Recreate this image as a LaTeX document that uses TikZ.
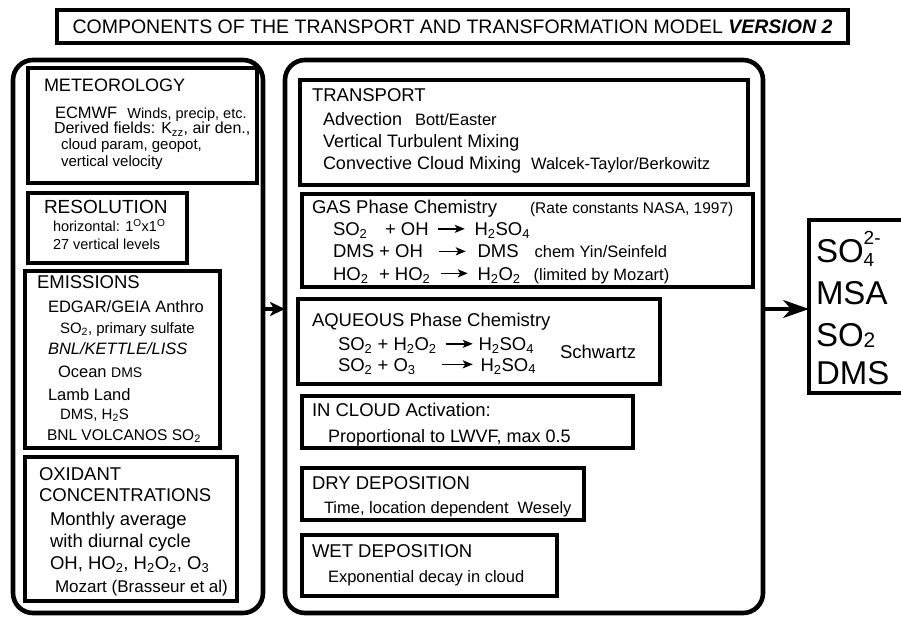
\documentclass[tikz,border=0pt]{standalone}
\usepackage{fontspec}
\setmainfont{Liberation Sans}
\usetikzlibrary{arrows.meta}

\newcommand{\fs}[1]{\fontsize{#1bp}{#1bp}\selectfont}
\newcommand{\rarr}[1][27bp]{\tikz[baseline=-0.36em]\draw[line width=1.5bp,-{Stealth[length=10bp,width=8bp,inset=2.5bp]}] (0bp,0bp) -- (#1,0bp);}

\begin{document}
\begin{tikzpicture}[x=1bp,y=-1bp,
        outerbox/.style={draw,line width=4.6bp,rounded corners=20bp,anchor=north west,inner sep=0pt,outer sep=0pt},
        compbox/.style={draw,line width=3.8bp,anchor=north west,inner sep=0pt,outer sep=0pt},
        txt/.style={anchor=base west,inner sep=0pt,outer sep=0pt},
        arrL/.style={line width=3.5bp,-{Stealth[length=15bp,width=14bp,inset=4bp]}},
        arrR/.style={line width=3.5bp,-{Stealth[length=26bp,width=18bp,inset=8bp]}}]

    \useasboundingbox (0,0) rectangle (901,620);
    \clip (0,0) rectangle (901,620);

    % title
    \node[draw,line width=4bp,minimum width=791bp,minimum height=33bp,inner sep=0pt,font=\fs{19.5}]
          (title) at (452.5,26.5) {COMPONENTS OF THE TRANSPORT AND TRANSFORMATION MODEL \textbf{\textit{VERSION 2}}};

    % the three columns
    \node[outerbox,minimum width=250bp,minimum height=553bp] (inputs) at (13,60) {};
    \node[outerbox,minimum width=478bp,minimum height=553bp] (model)  at (285,60) {};
    \node[draw,line width=4.3bp,anchor=north west,minimum width=110bp,minimum height=173bp,
          inner sep=0pt,outer sep=0pt] (output) at (809,220) {};

    \coordinate (flowlvl) at (0,309);
    \draw[arrL] (inputs.east |- flowlvl) -- (model.west |- flowlvl);
    \draw[arrR] (model.east |- flowlvl) -- (output.west |- flowlvl);

    % input boxes
    \node[compbox,minimum width=229bp,minimum height=115bp] (meteo) at (28,68)  {};
    \node[compbox,minimum width=159bp,minimum height=70bp]  (resol) at (28,193) {};
    \node[compbox,minimum width=195bp,minimum height=177bp] (emis)  at (25,271) {};
    \node[compbox,minimum width=212bp,minimum height=144bp] (oxid)  at (25,457) {};

    \node[txt,font=\fs{18}]   (meteoA) at (44,91.5) {METEOROLOGY};
    \node[txt,font=\fs{16.5}] (meteoB) at (55,118.5) {ECMWF\hspace{10bp}{\fs{14.5}Winds, precip, etc.}};
    \node[txt,font=\fs{16}]   (meteoC) at (54,134) {Derived fields: K\textsubscript{zz}, air den.,};
    \node[txt,font=\fs{15}]   (meteoD) at (61,150) {cloud param, geopot,};
    \node[txt,font=\fs{15}]   (meteoE) at (61,167) {vertical velocity};

    \node[txt,font=\fs{19}]   (resolA) at (44,214) {RESOLUTION};
    \node[txt,font=\fs{14.5}] (resolB) at (53,231.5) {horizontal: 1\textsuperscript{O}x1\textsuperscript{O}};
    \node[txt,font=\fs{14.5}] (resolC) at (53,250) {27 vertical levels};

    \node[txt,font=\fs{18.5}] (emisA) at (37,288.5) {EMISSIONS};
    \node[txt,font=\fs{16.5}] (emisB) at (48,312.5) {EDGAR/GEIA Anthro};
    \node[txt,font=\fs{15}]   (emisC) at (60,333.5) {SO\textsubscript{2}, primary sulfate};
    \node[txt,font=\fs{16.5}\itshape] (emisD) at (48,354.5) {BNL/KETTLE/LISS};
    \node[txt,font=\fs{16.5}] (emisE) at (58,377.5) {Ocean {\fs{14}DMS}};
    \node[txt,font=\fs{16.5}] (emisF) at (48,400) {Lamb Land};
    \node[txt,font=\fs{15}]   (emisG) at (60,419) {DMS, H\textsubscript{2}S};
    \node[txt,font=\fs{15.5}] (emisH) at (47,440) {BNL VOLCANOS SO\textsubscript{2}};

    \node[txt,font=\fs{18.5}] (oxidA) at (39,480) {OXIDANT};
    \node[txt,font=\fs{18.5}] (oxidB) at (39,501.5) {CONCENTRATIONS};
    \node[txt,font=\fs{18.5}] (oxidC) at (50,525) {Monthly average};
    \node[txt,font=\fs{18.5}] (oxidD) at (50,547.5) {with diurnal cycle};
    \node[txt,font=\fs{18.5}] (oxidE) at (50,569.5) {OH, HO\textsubscript{2}, H\textsubscript{2}O\textsubscript{2}, O\textsubscript{3}};
    \node[txt,font=\fs{17}]   (oxidF) at (55,592.5) {Mozart (Brasseur et al)};

    % model boxes
    \node[compbox,minimum width=448bp,minimum height=105bp] (transp)  at (300,80)  {};
    \node[compbox,minimum width=451bp,minimum height=93bp]  (gaschem) at (302,194) {};
    \node[compbox,minimum width=362bp,minimum height=85bp]  (aqchem)  at (298,299) {};
    \node[compbox,minimum width=331bp,minimum height=52bp]  (incloud) at (302,396) {};
    \node[compbox,minimum width=282bp,minimum height=52bp]  (drydep)  at (302,468) {};
    \node[compbox,minimum width=255bp,minimum height=61bp]  (wetdep)  at (302,535) {};

    \node[txt,font=\fs{18.5}] (transpA) at (312,101.5) {TRANSPORT};
    \node[txt,font=\fs{18}]   (transpB) at (323,125.5) {Advection\hspace{13bp}{\fs{16.5}Bott/Easter}};
    \node[txt,font=\fs{18}]   (transpC) at (323,147.5) {Vertical Turbulent Mixing};
    \node[txt,font=\fs{18}]   (transpD) at (323,169.5) {Convective Cloud Mixing\hspace{10bp}{\fs{16.5}Walcek-Taylor/Berkowitz}};

    \node[txt,font=\fs{18.5}] (gasA) at (312,213.5) {GAS Phase Chemistry\hspace{33bp}{\fs{15.5}(Rate constants NASA, 1997)}};
    \node[txt,font=\fs{18.5}] (gasB) at (333,235.5)
          {\makebox[104bp][l]{\makebox[52bp][l]{SO\textsubscript{2}}+ OH}\rarr\hspace{9bp}H\textsubscript{2}SO\textsubscript{4}};
    \node[txt,font=\fs{18.5}] (gasC) at (333,258)
          {\makebox[105bp][l]{DMS + OH}\rarr\hspace{11bp}DMS\hspace{16bp}{\fs{16.5}chem Yin/Seinfeld}};
    \node[txt,font=\fs{18.5}] (gasD) at (333,280)
          {\makebox[107bp][l]{\makebox[46bp][l]{HO\textsubscript{2}}+ HO\textsubscript{2}}\rarr\hspace{9bp}H\textsubscript{2}O\textsubscript{2}\hspace{13bp}{\fs{16.5}(limited by Mozart)}};

    \node[txt,font=\fs{18.5}] (aqA) at (312,326) {AQUEOUS Phase Chemistry};
    \node[txt,font=\fs{18.5}] (aqB) at (338,350.5)
          {\makebox[107bp][l]{SO\textsubscript{2} + H\textsubscript{2}O\textsubscript{2}}\rarr\hspace{5bp}H\textsubscript{2}SO\textsubscript{4}};
    \node[txt,font=\fs{18.5}] (aqC) at (338,371)
          {\makebox[103bp][l]{SO\textsubscript{2} + O\textsubscript{3}}\rarr[31bp]\hspace{7bp}H\textsubscript{2}SO\textsubscript{4}};
    \node[txt,font=\fs{18.5}] (aqD) at (560,358.5) {Schwartz};

    \node[txt,font=\fs{18.5}] (cloudA) at (312,416.5) {IN CLOUD Activation:};
    \node[txt,font=\fs{18}]   (cloudB) at (328,442.5) {Proportional to LWVF, max 0.5};
    \node[txt,font=\fs{18.5}] (dryA) at (312,489.5) {DRY DEPOSITION};
    \node[txt,font=\fs{16.5}] (dryB) at (324,513) {Time, location dependent\hspace{9bp}Wesely};
    \node[txt,font=\fs{18.5}] (wetA) at (312,557.5) {WET DEPOSITION};
    \node[txt,font=\fs{16.5}] (wetB) at (328,582) {Exponential decay in cloud};

    % output species
    \node[txt,font=\fs{33}] (outA) at (816,263)
          {SO\rlap{\raisebox{18bp}{\fs{19}2-}}\raisebox{-4bp}{\fs{19}4}};
    \node[txt,font=\fs{33}] (outB) at (816,304) {MSA};
    \node[txt,font=\fs{33}] (outC) at (816,346.5) {SO\raisebox{-1bp}{\fs{21}2}};
    \node[txt,font=\fs{33}] (outD) at (816,384) {DMS};

\end{tikzpicture}
\end{document}
